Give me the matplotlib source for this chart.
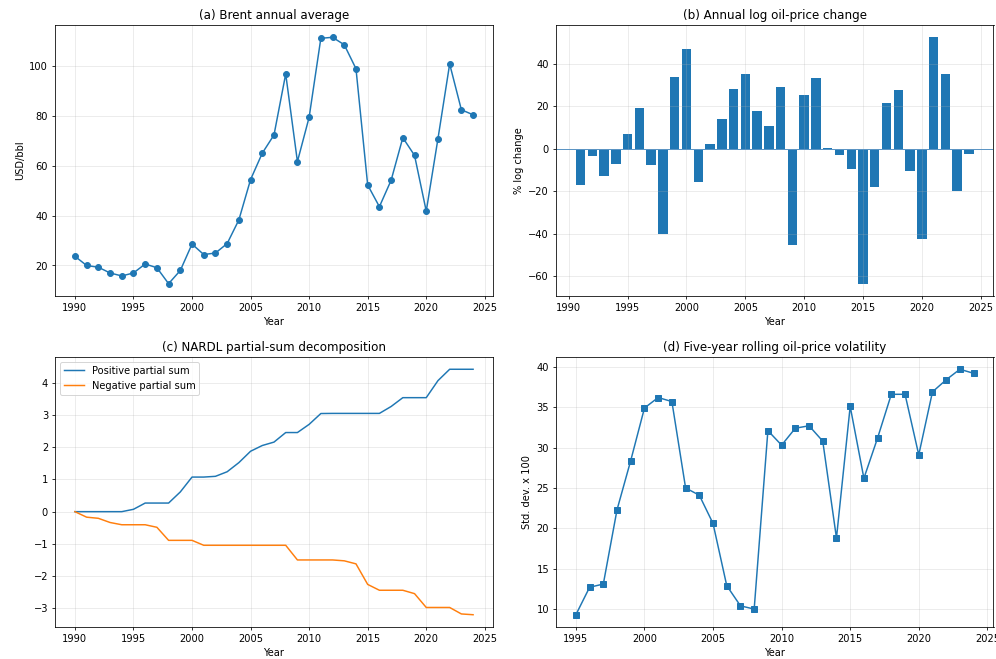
import numpy as np
import matplotlib
matplotlib.use("Agg")
import matplotlib.pyplot as plt

years = list(range(1990, 2025))

# Brent annual average, USD/bbl
brent = [23.7, 20.0, 19.3, 17.0, 15.8, 17.0, 20.6, 19.1, 12.7, 18.0,
         28.6, 24.4, 25.0, 28.8, 38.3, 54.5, 65.1, 72.4, 96.9, 61.7,
         79.5, 111.2, 111.6, 108.6, 99.0, 52.3, 43.6, 54.2, 71.3, 64.2,
         41.8, 70.9, 100.9, 82.5, 80.5]

# annual log change in %, 1991-2024
dlog_years = list(range(1991, 2025))
dlog = [-17.1, -3.5, -12.9, -7.0, 7.2, 19.3, -7.6, -40.3, 34.0, 46.8,
        -15.8, 2.3, 14.2, 28.3, 35.3, 17.8, 10.6, 29.1, -45.2, 25.4,
        33.5, 0.4, -2.7, -9.3, -63.5, -18.1, 21.4, 27.5, -10.4, -42.6,
        52.5, 35.3, -20.0, -2.4]

# NARDL partial sums
pos_sum = [0.0, 0.0, 0.0, 0.0, 0.0, 0.073, 0.267, 0.267, 0.267, 0.612,
           1.073, 1.073, 1.096, 1.238, 1.521, 1.874, 2.052, 2.158, 2.454, 2.454,
           2.708, 3.044, 3.048, 3.048, 3.048, 3.048, 3.048, 3.262, 3.536, 3.536,
           3.536, 4.064, 4.417, 4.417, 4.417]
neg_sum = [0.0, -0.171, -0.206, -0.336, -0.406, -0.406, -0.406, -0.485, -0.890, -0.890,
           -0.890, -1.043, -1.043, -1.043, -1.043, -1.043, -1.043, -1.043, -1.043, -1.498,
           -1.498, -1.498, -1.498, -1.525, -1.619, -2.257, -2.438, -2.438, -2.438, -2.543,
           -2.972, -2.972, -2.972, -3.173, -3.197]

# five-year rolling volatility, std. dev. x 100
vol_years = list(range(1995, 2025))
vol = [9.3, 12.7, 13.1, 22.3, 28.4, 34.9, 36.2, 35.7, 25.0, 24.1,
       20.6, 12.9, 10.4, 10.0, 32.1, 30.3, 32.4, 32.7, 30.8, 18.8,
       35.1, 26.2, 31.2, 36.6, 36.6, 29.1, 36.9, 38.4, 39.7, 39.2]

W, H = 997, 659
DPI = 997 / 14
fig = plt.figure(figsize=(14, 9.254), dpi=DPI)


def box(l, t, r, b):
    return [l / W, 1 - b / H, (r - l) / W, (b - t) / H]


ax1 = fig.add_axes(box(55, 25, 493, 296))
ax2 = fig.add_axes(box(556, 25, 993.5, 296))
ax3 = fig.add_axes(box(55, 357, 493, 627))
ax4 = fig.add_axes(box(556, 357, 993.5, 627))

ax1.plot(years, brent, marker="o")
ax1.set_title("(a) Brent annual average")
ax1.set_ylabel("USD/bbl")

ax2.bar(dlog_years, dlog)
ax2.axhline(0, color="#5b95c4", linewidth=1)
ax2.set_title("(b) Annual log oil-price change")
ax2.set_ylabel("% log change")

ax3.plot(years, pos_sum, label="Positive partial sum")
ax3.plot(years, neg_sum, label="Negative partial sum")
ax3.set_title("(c) NARDL partial-sum decomposition")
ax3.legend(loc="upper left")

ax4.plot(vol_years, vol, marker="s")
ax4.set_title("(d) Five-year rolling oil-price volatility")
ax4.set_ylabel("Std. dev. x 100")

for ax in (ax1, ax2, ax3, ax4):
    ax.set_xlabel("Year")
    ax.grid(alpha=0.3)

fig.savefig("out.png", dpi=DPI)
